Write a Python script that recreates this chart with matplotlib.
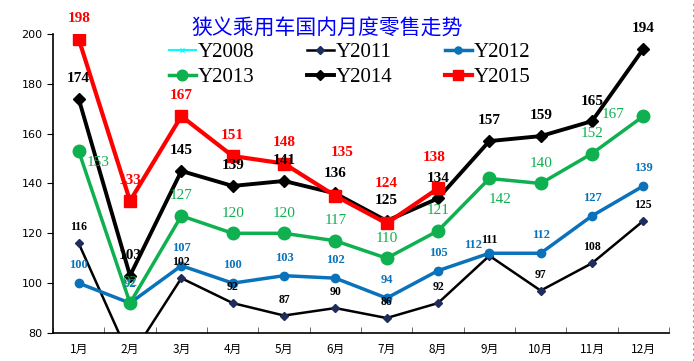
import numpy as np
import matplotlib
matplotlib.use("Agg")
from matplotlib import pyplot as plt
from matplotlib.lines import Line2D

# data
months = ["1月", "2月", "3月", "4月", "5月", "6月", "7月", "8月", "9月", "10月", "11月", "12月"]
y2008 = [np.nan] * 12
y2011 = [116, 70, 102, 92, 87, 90, 86, 92, 111, 97, 108, 125]
y2012 = [100, 92, 107, 100, 103, 102, 94, 105, 112, 112, 127, 139]
y2013 = [153, 92, 127, 120, 120, 117, 110, 121, 142, 140, 152, 167]
y2014 = [174, 103, 145, 139, 141, 136, 125, 134, 157, 159, 165, 194]
y2015 = [198, 133, 167, 151, 148, 135, 124, 138]
title = "狭义乘用车国内月度零售走势"

serif = ["Liberation Serif", "DejaVu Serif"]
cjk = ["Noto Sans CJK SC", "DejaVu Sans"]

fig = plt.figure(figsize=(6.94, 3.61), dpi=100)
ax = fig.add_axes([0.0764, 0.0776, 0.8876, 0.8284])
x = np.arange(12)

ax.plot(x, y2008, color="cyan", lw=1.5, marker="x", ms=4, label="Y2008")
ax.plot(x, y2011, color="black", lw=1.8, marker="D", ms=4.5,
        mfc="#1F2D5A", mec="#1F2D5A", label="Y2011")
ax.plot(x, y2012, color="#0A72BA", lw=2.5, marker="o", ms=6, label="Y2012")
ax.plot(x, y2013, color="#0FB04F", lw=2.5, marker="o", ms=9, label="Y2013")
ax.plot(x, y2014, color="black", lw=2.8, marker="D", ms=6, label="Y2014")
ax.plot(np.arange(len(y2015)), y2015, color="#FF0000", lw=3, marker="s", ms=9,
        label="Y2015")

# label offsets in points (default: straight above)
def put_labels(vals, color, size, dy, weight="normal", special=None):
    special = special or {}
    for i, v in enumerate(vals):
        if np.isnan(v) or v < 80:
            continue
        ox, oy = special.get(i, (0, dy))
        ax.annotate(str(v), (i, v), xytext=(ox, oy), textcoords="offset points",
                    ha="center", va="center", color=color, fontsize=size,
                    fontweight=weight, family=serif, annotation_clip=False)

put_labels(y2011, "black", 8.5, 11.5, "bold")
put_labels(y2012, "#0A72BA", 9, 13, "bold", {1: (0, 14), 8: (-11.5, 6)})
put_labels(y2013, "#0FB04F", 11, 14.5, "normal",
           {0: (14, -8), 8: (8, -15), 11: (-21.5, 1)})
put_labels(y2014, "black", 11, 14.5, "bold")
put_labels(y2015, "#FF0000", 11, 15, "bold",
           {5: (5, 31), 6: (0, 29), 7: (-3, 22)})

ax.set_xlim(-0.5, 11.5)
ax.set_ylim(80, 200)
ax.set_yticks(range(80, 201, 20))
ax.set_xticks(x)
ax.set_xticklabels(months, family=cjk, fontsize=8.5)
ax.set_xticks(np.arange(-0.5, 12, 1), minor=True)
ax.tick_params(axis="x", which="major", length=0, pad=7)
ax.tick_params(axis="x", which="minor", direction="in", length=4, color="#555555")
ax.tick_params(axis="y", direction="out", length=4, labelsize=8)
for s in ["top", "right"]:
    ax.spines[s].set_visible(False)
for s in ["left", "bottom"]:
    ax.spines[s].set_linewidth(1.2)

fig.text(0.471, 0.922, title, color="#0000FF", fontsize=15, family=cjk,
         ha="center", va="center")

handles, labels = ax.get_legend_handles_labels()
# legend fills row-wise: reorder for column-major layout
order = [0, 3, 1, 4, 2, 5]
leg = fig.legend([handles[i] for i in order], [labels[i] for i in order],
                 ncol=3, loc="center", bbox_to_anchor=(0.504, 0.821),
                 frameon=False, prop={"family": serif, "size": 15},
                 handlelength=1.3, handletextpad=0.1, columnspacing=2.5,
                 labelspacing=0.25, markerscale=0.85)

fig.add_artist(Line2D([0.998, 0.998], [0.0, 1.0], color="#999999", lw=0.8,
                      ls=(0, (2, 3))))

fig.savefig("out.png", dpi=100)
